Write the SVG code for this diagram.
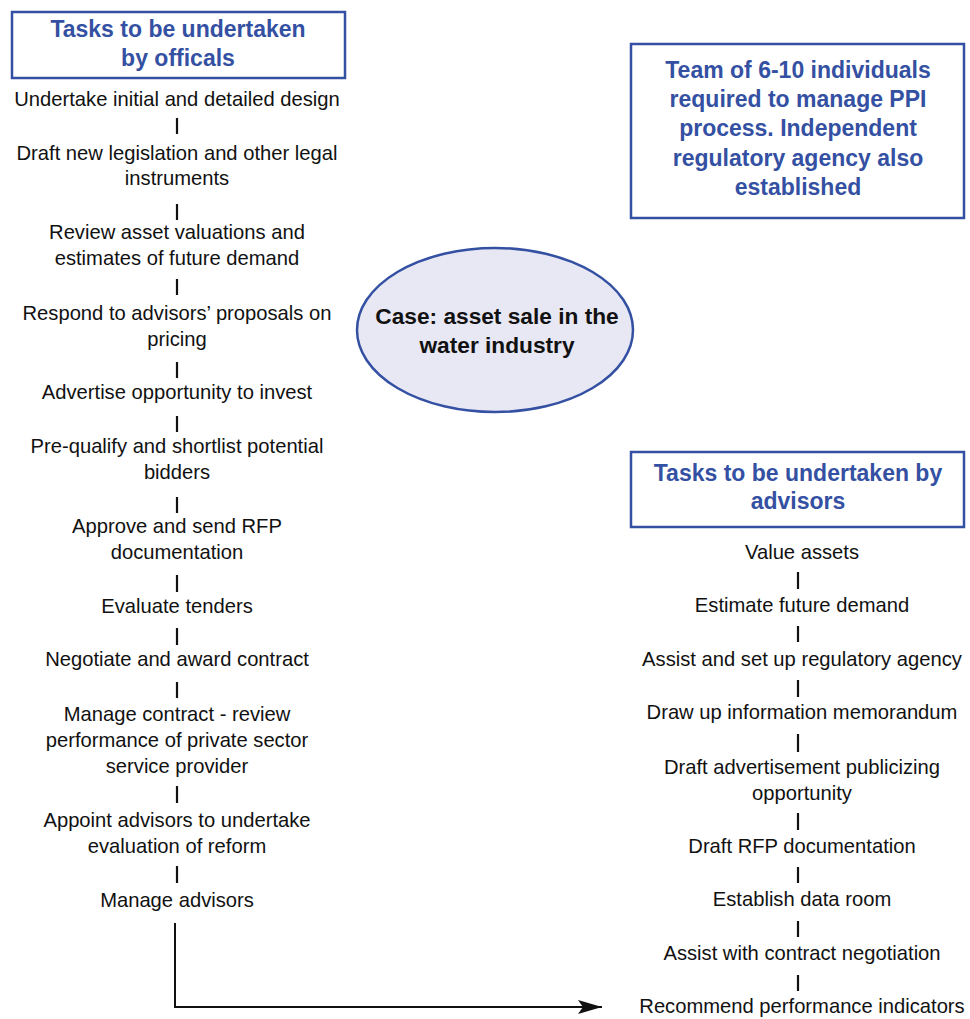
<svg xmlns="http://www.w3.org/2000/svg" width="970" height="1019" viewBox="0 0 970 1019">
<defs>
<style>
.t{font-family:"Liberation Sans",Arial,sans-serif;font-size:20.2px;fill:#111;text-anchor:middle}
.h{font-family:"Liberation Sans",Arial,sans-serif;font-size:23px;font-weight:bold;fill:#3450a2;text-anchor:middle}
.c{font-family:"Liberation Sans",Arial,sans-serif;font-size:22.7px;font-weight:bold;fill:#111;text-anchor:middle}
.box{fill:#fff;stroke:#3450a2;stroke-width:2.5}
.tick{stroke:#111;stroke-width:2.2}
.conn{fill:none;stroke:#111;stroke-width:2}
</style>
<marker id="arr" markerUnits="userSpaceOnUse" markerWidth="26" markerHeight="18" refX="24" refY="9" orient="auto">
<path d="M0,2 L24,9 L0,16 L5,9 Z" fill="#111"/>
</marker>
</defs>
<rect width="970" height="1019" fill="#fff"/>

<g id="officials-header">
<rect class="box" x="12" y="12" width="333" height="66"/>
<text class="h" x="178" y="37">Tasks to be undertaken</text>
<text class="h" x="178" y="66">by officals</text>
</g>

<g id="team-box">
<rect class="box" x="631" y="44" width="333" height="174"/>
<text class="h" x="798" y="78">Team of 6-10 individuals</text>
<text class="h" x="798" y="107">required to manage PPI</text>
<text class="h" x="798" y="136">process. Independent</text>
<text class="h" x="798" y="166">regulatory agency also</text>
<text class="h" x="798" y="195">established</text>
</g>

<g id="case">
<ellipse cx="495" cy="330" rx="138" ry="82" fill="#e8e8f4" stroke="#3450a2" stroke-width="2.5"/>
<text class="c" x="497" y="324">Case: asset sale in the</text>
<text class="c" x="497" y="353">water industry</text>
</g>

<g id="advisors-header">
<rect class="box" x="631" y="452" width="333" height="75"/>
<text class="h" x="798" y="481">Tasks to be undertaken by</text>
<text class="h" x="798" y="509">advisors</text>
</g>

<g id="left-tasks">
<g id="l1"><text class="t" x="177" y="106">Undertake initial and detailed design</text></g>
<g id="l2"><text class="t" x="177" y="160">Draft new legislation and other legal</text><text class="t" x="177" y="185">instruments</text></g>
<g id="l3"><text class="t" x="177" y="239">Review asset valuations and</text><text class="t" x="177" y="265">estimates of future demand</text></g>
<g id="l4"><text class="t" x="177" y="320">Respond to advisors’ proposals on</text><text class="t" x="177" y="346">pricing</text></g>
<g id="l5"><text class="t" x="177" y="399">Advertise opportunity to invest</text></g>
<g id="l6"><text class="t" x="177" y="453">Pre-qualify and shortlist potential</text><text class="t" x="177" y="479">bidders</text></g>
<g id="l7"><text class="t" x="177" y="533">Approve and send RFP</text><text class="t" x="177" y="559">documentation</text></g>
<g id="l8"><text class="t" x="177" y="613">Evaluate tenders</text></g>
<g id="l9"><text class="t" x="177" y="666">Negotiate and award contract</text></g>
<g id="l10"><text class="t" x="177" y="721">Manage contract - review</text><text class="t" x="177" y="747">performance of private sector</text><text class="t" x="177" y="773">service provider</text></g>
<g id="l11"><text class="t" x="177" y="827">Appoint advisors to undertake</text><text class="t" x="177" y="853">evaluation of reform</text></g>
<g id="l12"><text class="t" x="177" y="907">Manage advisors</text></g>
</g>

<g id="right-tasks">
<g id="r1"><text class="t" x="802" y="559">Value assets</text></g>
<g id="r2"><text class="t" x="802" y="612">Estimate future demand</text></g>
<g id="r3"><text class="t" x="802" y="666">Assist and set up regulatory agency</text></g>
<g id="r4"><text class="t" x="802" y="719">Draw up information memorandum</text></g>
<g id="r5"><text class="t" x="802" y="774">Draft advertisement publicizing</text><text class="t" x="802" y="800">opportunity</text></g>
<g id="r6"><text class="t" x="802" y="853">Draft RFP documentation</text></g>
<g id="r7"><text class="t" x="802" y="906">Establish data room</text></g>
<g id="r8"><text class="t" x="802" y="960">Assist with contract negotiation</text></g>
<g id="r9"><text class="t" x="802" y="1013">Recommend performance indicators</text></g>
</g>

<g id="connectors">
<line class="tick" x1="177" y1="118" x2="177" y2="134"/>
<line class="tick" x1="177" y1="204" x2="177" y2="220"/>
<line class="tick" x1="177" y1="279" x2="177" y2="295"/>
<line class="tick" x1="177" y1="362" x2="177" y2="378"/>
<line class="tick" x1="177" y1="416" x2="177" y2="432"/>
<line class="tick" x1="177" y1="497" x2="177" y2="513"/>
<line class="tick" x1="177" y1="575" x2="177" y2="592"/>
<line class="tick" x1="177" y1="628" x2="177" y2="645"/>
<line class="tick" x1="177" y1="682" x2="177" y2="698"/>
<line class="tick" x1="177" y1="786" x2="177" y2="803"/>
<line class="tick" x1="177" y1="866" x2="177" y2="883"/>
<line class="tick" x1="798" y1="572" x2="798" y2="589"/>
<line class="tick" x1="798" y1="626" x2="798" y2="642"/>
<line class="tick" x1="798" y1="680" x2="798" y2="697"/>
<line class="tick" x1="798" y1="734" x2="798" y2="752"/>
<line class="tick" x1="798" y1="813" x2="798" y2="830"/>
<line class="tick" x1="798" y1="867" x2="798" y2="883"/>
<line class="tick" x1="798" y1="921" x2="798" y2="937"/>
<line class="tick" x1="798" y1="975" x2="798" y2="991"/>
<path class="conn" d="M175,923 V1007 H602" marker-end="url(#arr)"/>
</g>
</svg>
